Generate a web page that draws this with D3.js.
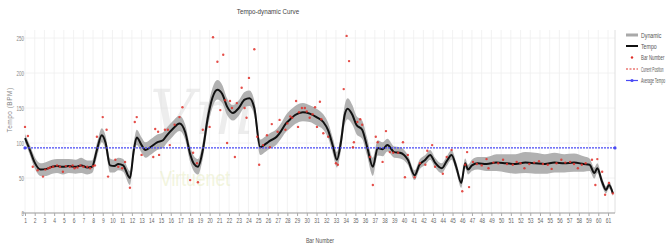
<!DOCTYPE html>
<html>
<head>
<meta charset="utf-8">
<script src="https://cdn.jsdelivr.net/npm/d3@7"></script>
<style>
  body { margin: 0; background: #fff; }
  text { font-family: "Liberation Sans Narrow", "Liberation Sans", sans-serif; fill: #555; }
</style>
</head>
<body>
<div id="chart"></div>
<script>
// bar numbers on the x axis
var barTicks = d3.range(1, 62)
var tempoTicks = [0, 50, 100, 150, 200, 250]

// smoothed tempo curve: [bar position, BPM]
var tempoBars = [1.0,1.5,2.0,2.6,3.2,3.8,4.3,4.9,5.5,6.2,6.8,7.4,7.9,8.4,8.9,9.3,9.75,10.2,10.6,11.1,11.8,12.2,12.5,13.0,13.4,14.0,14.6,15.2,15.6,16.2,16.9,17.5,18.0,18.4,18.8,19.3,19.8,20.3,20.8,21.3,21.8,22.4,23.0,23.6,24.1,24.6,25.2,25.8,26.2,26.9,27.3,27.8,28.3,28.8,29.6,30.3,31.0,31.7,32.2,32.7,33.1,33.5,33.9,34.2,34.7,35.1,35.7,36.2,36.8,37.3,37.8,38.3,39.0,39.6,40.4,41.1,41.6,42.2,42.7,43.2,43.9,44.4,44.9,45.4,45.9,46.3,46.6,47.0,47.6,48.5,49.5,50.5,51.5,52.5,53.5,54.5,55.5,56.5,57.5,58.5,59.1,59.6,59.9,60.4,60.8,61.1,61.5]
var tempoValues = [107,90,72,62,63,66,67,66,67,66,68,65,66,90,111,100,68,67,70,68,50,90,108,97,90,95,101,104,111,120,128,115,84,70,66,90,135,165,176,170,152,143,150,162,164,150,94,99,103,109,116,127,134,140,144,142,137,130,118,95,76,100,140,149,140,126,119,95,66,93,91,97,87,86,76,54,69,76,83,72,64,74,83,65,43,71,62,68,71,70,72,71,70,72,71,70,72,71,72,70,69,57,64,44,33,40,28]
// dynamic band half width (BPM units) at the same positions
var dynamicValues = [6,7,8,9,10,10,10,11,10,10,11,10,9,10,10,10,10,9,9,9,10,11,11,11,11,11,11,11,11,11,11,11,11,11,11,12,13,14,14,13,12,11,11,11,11,11,11,11,11,11,11,12,13,13,13,12,12,11,11,11,11,12,14,15,14,13,13,13,13,11,10,9,8,8,7,7,7,7,7,7,7,7,7,7,7,7,7,8,9,10,12,13,14,15,15,14,14,13,13,11,9,8,7,6,5,5,4]

// measured tempo per beat ("Bar Number" markers)
var dotBars = [1.0,1.3,1.8,2.3,2.85,3.1,3.4,3.6,3.9,4.3,4.6,4.9,5.2,5.6,5.9,6.1,6.4,6.7,7.0,7.4,7.7,8.0,8.2,8.4,9.0,9.4,9.55,10.3,10.6,11.0,11.3,11.8,12.3,12.5,13.0,14.2,14.4,14.7,14.8,15.4,15.7,15.9,16.4,16.9,17.2,18.0,18.3,18.7,18.8,19.3,20.0,20.35,20.8,21.1,21.4,21.6,21.8,22.1,22.3,22.6,22.8,23.3,23.6,23.8,24.05,24.6,24.9,25.1,25.5,25.9,26.2,26.4,27.0,27.2,27.8,28.0,28.3,28.5,28.9,29.1,29.2,29.5,29.8,30.0,30.3,30.6,30.85,31.05,31.35,31.5,31.7,32.2,33.0,33.2,33.8,34.1,34.35,34.75,34.85,35.2,35.5,35.7,36.5,36.8,37.1,37.3,37.8,38.15,38.55,38.9,39.4,39.9,40.1,40.4,41.1,41.65,42.2,42.4,42.9,43.2,44.0,44.4,44.9,46.0,46.3,46.5,46.7,47.1,47.5,48.0,48.5,48.7,49.2,49.7,50.2,50.6,51.2,51.6,52.0,52.4,52.9,53.4,53.9,54.3,54.8,55.2,55.7,56.2,56.6,57.1,57.5,57.9,58.3,58.7,59.35,59.9,59.7,60.4,60.7,61.1,61.5]
var dotValues = [123,110,66,61,52,62,64,65,66,68,66,59,67,66,68,64,65,68,66,66,64,67,68,109,137,119,52,76,66,64,73,36,130,137,83,80,120,116,83,119,119,97,126,137,151,47,86,71,44,119,123,251,216,147,226,161,100,160,150,80,157,179,150,136,193,234,109,69,97,111,94,127,116,133,119,128,138,136,160,123,144,150,150,145,136,141,151,123,159,134,114,109,71,69,177,253,217,94,101,130,134,126,80,40,109,101,73,117,87,86,86,101,51,83,51,71,69,89,97,66,56,80,90,31,69,87,37,73,70,68,77,64,72,71,76,70,69,73,71,64,70,72,74,70,69,63,71,76,72,73,70,64,69,71,76,77,40,59,26,43,28]

var averageTempo = 93

var W = 670, H = 248
var svg = d3.select('#chart').append('svg')
    .attr('width', W)
    .attr('height', H)

var x = d3.scaleLinear().domain([1, 61]).range([25, 608])
var y = d3.scaleLinear().domain([0, 250]).range([213, 38])
var xRight = 615

// grid
var grid = svg.append('g')
grid.selectAll('.vgrid').data(barTicks).enter().append('line')
    .attr('x1', d => x(d)).attr('x2', d => x(d))
    .attr('y1', 30).attr('y2', y(0))
    .attr('stroke', '#efefef').attr('stroke-width', 0.8)
grid.selectAll('.hgrid').data(tempoTicks.slice(1)).enter().append('line')
    .attr('x1', 22).attr('x2', xRight)
    .attr('y1', d => y(d)).attr('y2', d => y(d))
    .attr('stroke', '#efefef').attr('stroke-width', 0.8)
grid.append('line')
    .attr('x1', xRight).attr('x2', xRight)
    .attr('y1', 30).attr('y2', y(0))
    .attr('stroke', '#e0e0e0').attr('stroke-width', 1)

// faint watermark
var wm = svg.append('g').attr('opacity', 0.45)
wm.append('text').attr('x', 150).attr('y', 134)
    .style('font-family', 'DejaVu Serif').style('font-style', 'italic')
    .style('font-size', '62px').style('fill', '#d8d8d8').text('Vm')
wm.append('text')
    .attr('transform', 'translate(160,186) scale(0.8,1)')
    .style('font-size', '22px').style('fill', '#e4eab8').text('Virtuenet')

// dynamic band
var pts = tempoBars.map((b, i) => ({b: b, t: tempoValues[i], d: dynamicValues[i]}))
var area = d3.area()
    .x(d => x(d.b))
    .y0(d => y(d.t - d.d))
    .y1(d => y(d.t + d.d))
    .curve(d3.curveMonotoneX)
svg.append('path').datum(pts)
    .attr('d', area)
    .attr('fill', '#a9a9a9')
    .attr('opacity', 0.9)

// tempo line
var line = d3.line()
    .x(d => x(d.b))
    .y(d => y(d.t))
    .curve(d3.curveMonotoneX)
svg.append('path').datum(pts)
    .attr('d', line)
    .attr('fill', 'none')
    .attr('stroke', '#111')
    .attr('stroke-width', 2)

// average tempo
svg.append('line')
    .attr('x1', x(1)).attr('x2', xRight)
    .attr('y1', y(averageTempo)).attr('y2', y(averageTempo))
    .attr('stroke', '#4a4af5').attr('stroke-width', 1.2)
    .attr('stroke-dasharray', '2,1')
svg.selectAll('.avgdot').data([x(1), xRight]).enter().append('circle')
    .attr('cx', d => d).attr('cy', y(averageTempo)).attr('r', 1.6)
    .attr('fill', '#4a4af5')

// beat markers
svg.selectAll('.dot').data(dotBars).enter().append('circle')
    .attr('cx', d => x(d))
    .attr('cy', (d, i) => y(dotValues[i]))
    .attr('r', 1.2)
    .attr('fill', '#e0302a')
    .attr('opacity', 0.85)

// x axis
var xAxis = d3.axisBottom(x).tickValues(barTicks).tickSize(3).tickFormat(d3.format('d'))
var gx = svg.append('g').attr('transform', 'translate(0,' + y(0) + ')').call(xAxis)
gx.select('.domain').attr('d', 'M22,0H' + xRight).attr('stroke', '#999')
gx.selectAll('.tick line').attr('stroke', '#aaa')
gx.selectAll('.tick text').attr('y', 5)
    .attr('transform', 'scale(0.7,1)')
    .style('font-size', '7px').style('fill', '#666')

// y labels
svg.selectAll('.ylab').data(tempoTicks).enter().append('text')
    .attr('transform', d => 'translate(24,' + (y(d) + 2.5) + ') scale(0.7,1)')
    .attr('text-anchor', 'end')
    .style('font-size', '6.5px').style('fill', '#888')
    .text(d => d)

// titles
svg.append('text')
    .attr('transform', 'translate(268,14) scale(0.78,1)')
    .attr('text-anchor', 'middle').style('font-size', '8px').style('fill', '#444')
    .text('Tempo-dynamic Curve')
svg.append('text')
    .attr('transform', 'translate(320,243) scale(0.75,1)')
    .attr('text-anchor', 'middle').style('font-size', '7px').style('fill', '#555')
    .text('Bar Number')
svg.append('text')
    .attr('transform', 'translate(12,110) rotate(-90)')
    .attr('text-anchor', 'middle').style('font-size', '6.5px').style('fill', '#888')
    .style('letter-spacing', '0.5px')
    .text('Tempo (BPM)')

// legend
var legendNames = ['Dynamic', 'Tempo', 'Bar Number', 'Current Position', 'Average Tempo']
var legendScale = [0.75, 0.75, 0.62, 0.45, 0.5]
var legendY = [35, 46, 57.5, 69, 80.5]
var lg = svg.append('g')
legendNames.forEach(function(name, i) {
    var ly = legendY[i]
    if (i == 0) {
        lg.append('line').attr('x1', 626).attr('x2', 638).attr('y1', ly).attr('y2', ly)
            .attr('stroke', '#a9a9a9').attr('stroke-width', 3)
    } else if (i == 1) {
        lg.append('line').attr('x1', 626).attr('x2', 638).attr('y1', ly).attr('y2', ly)
            .attr('stroke', '#111').attr('stroke-width', 2)
    } else if (i == 2) {
        lg.append('circle').attr('cx', 632).attr('cy', ly).attr('r', 1.2).attr('fill', '#e0302a')
    } else if (i == 3) {
        lg.append('line').attr('x1', 626).attr('x2', 638).attr('y1', ly).attr('y2', ly)
            .attr('stroke', '#e0302a').attr('stroke-width', 1).attr('stroke-dasharray', '2,1.5')
    } else {
        lg.append('line').attr('x1', 626).attr('x2', 638).attr('y1', ly).attr('y2', ly)
            .attr('stroke', '#4a4af5').attr('stroke-width', 1.2)
        lg.append('circle').attr('cx', 632).attr('cy', ly).attr('r', 1.6).attr('fill', '#4a4af5')
    }
    lg.append('text')
        .attr('transform', 'translate(641,' + (ly + 2.5) + ') scale(' + legendScale[i] + ',1)')
        .style('font-size', '7px').style('fill', '#555')
        .text(name)
})
</script>
</body>
</html>
